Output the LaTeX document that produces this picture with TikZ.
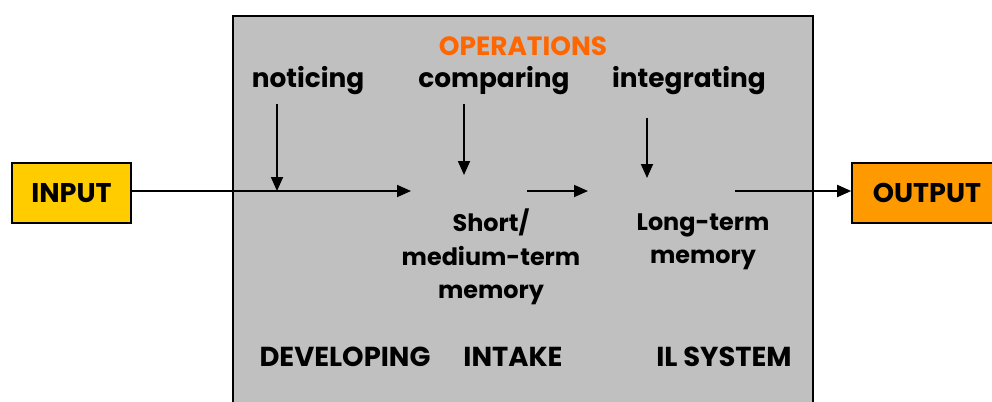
\documentclass[tikz,border=0pt]{standalone}
\usepackage{fontspec}
\setmainfont{Poppins}
\usetikzlibrary{positioning,arrows.meta}

\definecolor{boxgray}{HTML}{C0C0C0}
\definecolor{inyellow}{HTML}{FFCC00}
\definecolor{outorange}{HTML}{FF9900}
\definecolor{opsorange}{HTML}{FF6600}

\begin{document}
\begin{tikzpicture}[
    label/.style={font=\fontsize{15}{18}\selectfont\bfseries, inner sep=0pt},
    biglabel/.style={label, font=\fontsize{15.6}{18}\selectfont\bfseries},
    memlabel/.style={label, align=center, font=\fontsize{13.6}{19}\selectfont\bfseries},
    iobox/.style={draw, line width=0.9pt, minimum height=1.2cm, font=\fontsize{15.4}{19}\selectfont\bfseries},
    flow/.style={line width=1pt, -{Triangle[length=2.8mm,width=2.4mm]}}
]
\useasboundingbox (0,0) rectangle (19.84,-8.02);
\clip (0,0) rectangle (19.84,-8.02);

% Grey system box
\draw[fill=boxgray, line width=0.9pt] (4.66,-0.32) rectangle (16.26,-8.4);

% Input and output boxes
\node[iobox, fill=inyellow, minimum width=2.38cm] (input) at (1.43,-3.86) {INPUT};
\node[iobox, fill=outorange, minimum width=3.0cm] (output) at (18.54,-3.86) {OUTPUT};

% Operations heading
\node[label, text=opsorange] (ops) at (10.46,-0.92) {OPERATIONS};
\node[label] (notice) at (6.16,-1.62) {noticing};
\node[label] (compare) at (9.88,-1.62) {comparing};
\node[label] (integrate) at (13.78,-1.62) {integrating};

% Memory stores
\node[memlabel] (stm) at (9.82,-5.14) {Short/\\medium-term\\memory};
\node[memlabel] (ltm) at (14.06,-4.84) {Long-term\\memory};

% Bottom labels
\node[biglabel] (dev) at (6.90,-7.14) {DEVELOPING};
\node[biglabel] (intake) at (10.26,-7.14) {INTAKE};
\node[biglabel] (ilsys) at (14.48,-7.14) {IL SYSTEM};

% Arrow end points
\coordinate (stm in) at (8.22,-3.82);
\coordinate (stm out) at (10.54,-3.82);
\coordinate (ltm in) at (11.76,-3.82);
\coordinate (ltm out) at (14.70,-3.82);
\coordinate (notice top) at (5.54,-2.08);
\coordinate (notice end) at (5.54,-3.82);
\coordinate (compare top) at (9.28,-2.08);
\coordinate (compare end) at (9.28,-3.50);
\coordinate (integrate top) at (12.94,-2.36);
\coordinate (integrate end) at (12.94,-3.56);

% Flow arrows
\draw[flow] (input.east |- stm in) -- (stm in);
\draw[flow] (stm out) -- (ltm in);
\draw[flow] (ltm out) -- (output.west |- ltm out);
\draw[flow] (notice top) -- (notice end);
\draw[flow] (compare top) -- (compare end);
\draw[flow] (integrate top) -- (integrate end);

\end{tikzpicture}
\end{document}
